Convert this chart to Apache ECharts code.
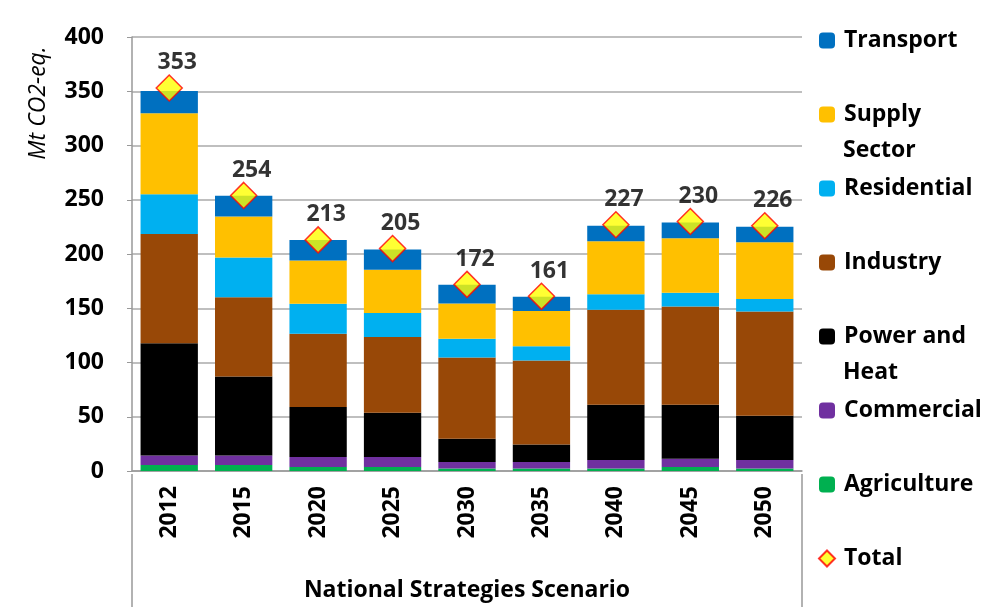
<!DOCTYPE html>
<html lang="en">
<head>
    <meta charset="UTF-8">
    <title>National Strategies Scenario</title>
    <script src="https://cdnjs.cloudflare.com/ajax/libs/echarts/6.0.0/echarts.min.js"></script>
    <style>
        html, body { margin: 0; padding: 0; background: #fff; }
        #box { width: 989px; height: 607px; }
    </style>
</head>
<body>
<div id="box"></div>
<script>
    // years on the category axis
    var years = ['2012', '2015', '2020', '2025', '2030', '2035', '2040', '2045', '2050'];
    // sectors, Mt CO2-eq.
    var agriculture = [5.5, 5.5, 3.7, 3.7, 2.4, 2.4, 2.4, 3.7, 2.4];
    var commercial = [8.8, 8.8, 9.1, 9.1, 5.8, 5.8, 7.7, 7.6, 7.7];
    var power = [103.4, 72.9, 46.1, 40.8, 21.6, 16.2, 50.9, 49.7, 40.8];
    var industry = [100.7, 73.0, 67.7, 70.0, 74.8, 77.5, 87.6, 90.6, 96.1];
    var residential = [36.6, 36.6, 27.5, 22.0, 17.4, 13.1, 14.4, 12.8, 11.6];
    var supply = [74.8, 37.8, 40.0, 39.9, 32.3, 32.4, 48.7, 50.1, 52.2];
    var transport = [20.4, 19.2, 18.9, 18.6, 17.4, 13.1, 14.4, 14.6, 14.4];
    var total = [353, 254, 213, 205, 172, 161, 227, 230, 226];
    var yTicks = [0, 50, 100, 150, 200, 250, 300, 350, 400];

    var font = 'Open Sans';
    var fs = 23;
    var myChart = echarts.init(document.getElementById('box'));

    function bar(name, data, color) {
        return {
            name: name,
            type: 'bar',
            stack: 'all',
            barCategoryGap: '23%',
            itemStyle: { color: color },
            data: data
        };
    }

    var shortName = {
        'Supply Sector': 'Supply',
        'Power and Heat': 'Power and'
    };

    var option = {
        animation: false,
        textStyle: { fontFamily: font },
        grid: { left: 132, right: 187, top: 37, bottom: 132 },
        legend: {
            orient: 'vertical',
            left: 813,
            top: 24,
            itemWidth: 16,
            itemHeight: 16,
            itemGap: 51,
            textStyle: { fontFamily: font, fontWeight: 'bold', fontSize: fs, lineHeight: 22, color: '#000', padding: [0, 0, 0, 4] },
            formatter: function (n) { return shortName[n] || n; },
            data: ['Transport', 'Supply Sector', 'Residential', 'Industry', 'Power and Heat', 'Commercial', 'Agriculture', 'Total']
        },
        xAxis: {
            type: 'category',
            data: years,
            name: 'National Strategies Scenario',
            nameLocation: 'middle',
            nameGap: 108,
            nameTextStyle: { fontFamily: font, fontWeight: 'bold', fontSize: fs, color: '#000' },
            axisLine: { lineStyle: { color: '#999', width: 1.5 } },
            axisTick: { length: 77, lineStyle: { color: '#999', width: 1.2 } },
            axisLabel: { rotate: 90, margin: 15, fontFamily: font, fontWeight: 'bold', fontSize: fs, color: '#000' }
        },
        yAxis: {
            type: 'value',
            min: yTicks[0],
            max: yTicks[yTicks.length - 1],
            interval: 50,
            axisLine: { show: true, lineStyle: { color: '#999', width: 1.5 } },
            axisTick: { show: true, length: 5, lineStyle: { color: '#999' } },
            splitLine: { lineStyle: { color: '#aaa', width: 1.5 } },
            axisLabel: { margin: 28, fontFamily: font, fontWeight: 'bold', fontSize: fs, color: '#000' }
        },
        graphic: [
            { type: 'line', shape: { x1: 132, y1: 474, x2: 132, y2: 607 }, style: { stroke: '#999', lineWidth: 1.5 } },
            { type: 'line', shape: { x1: 802, y1: 474, x2: 802, y2: 607 }, style: { stroke: '#999', lineWidth: 1.5 } },
            { type: 'text', x: 38, y: 103, rotation: Math.PI / 2,
              style: { text: 'Mt CO2-eq.', fontFamily: font, fontStyle: 'italic', fontSize: 23, fill: '#000', align: 'center', verticalAlign: 'middle' } },
            { type: 'text', x: 843, y: 150,
              style: { text: 'Sector', fontFamily: font, fontWeight: 'bold', fontSize: fs, fill: '#000', verticalAlign: 'middle' } },
            { type: 'text', x: 843, y: 372,
              style: { text: 'Heat', fontFamily: font, fontWeight: 'bold', fontSize: fs, fill: '#000', verticalAlign: 'middle' } }
        ],
        series: [
            bar('Agriculture', agriculture, '#00B050'),
            bar('Commercial', commercial, '#7030A0'),
            bar('Power and Heat', power, '#000000'),
            bar('Industry', industry, '#984807'),
            bar('Residential', residential, '#00B0F0'),
            bar('Supply Sector', supply, '#FFC000'),
            bar('Transport', transport, '#0070C0'),
            {
                name: 'Total',
                type: 'scatter',
                symbol: 'diamond',
                symbolSize: 26,
                itemStyle: { color: '#FFFF00', borderColor: '#FF0000', borderWidth: 1.5 },
                label: {
                    show: true,
                    position: 'top',
                    distance: 0,
                    offset: [8, 0],
                    fontFamily: font,
                    fontWeight: 'bold',
                    fontSize: fs,
                    color: '#000'
                },
                z: 10,
                data: total
            }
        ]
    };

    option && myChart.setOption(option);
</script>
</body>
</html>
